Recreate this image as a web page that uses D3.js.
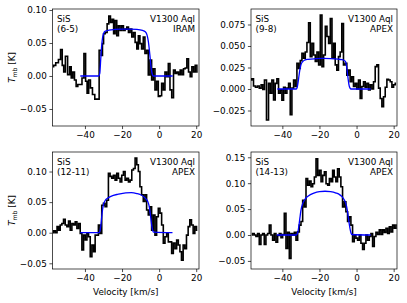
<!DOCTYPE html>
<html>
<head>
<meta charset="utf-8">
<script src="https://cdn.jsdelivr.net/npm/d3@7"></script>
<style>
body { margin: 0; background: #fff; }
svg { display: block; font-family: "DejaVu Sans", sans-serif; }
</style>
</head>
<body>
<svg id="fig" width="407" height="303"></svg>
<script>
// SiS (6-5), IRAM -- observed spectrum
var vel65 = [-57.3,-56.5,-55.0,-53.6,-52.7,-51.8,-51.1,-50.0,-48.7,-47.8,-47.0,-46.1,-45.2,-44.3,-43.4,-42.2,-41.0,-40.1,-39.2,-38.5,-37.5,-36.6,-35.3,-34.1,-33.0,-31.7,
  -30.8,-30.3,-29.6,-28.5,-27.6,-26.7,-25.8,-24.9,-24.2,-23.3,-22.4,-21.5,-20.6,-19.7,-18.8,-17.9,-17.0,-16.1,-15.2,-14.3,-13.4,-12.5,-11.6,-10.8,-9.9,-9.0,-8.1,-7.2,-6.3,-5.4,-4.5,-3.6,-2.7,-1.8,-0.9,0,0.9,1.8,2.7,3.6,4.5,5.4,6.3,7.3,8.2,9.1,10.0,10.9,11.8,12.7,13.6,14.5,15.4,16.3,17.2,18.1,19.0,19.9,20.8];
var tmb65 = [0.014,0.016,0.020,0.025,0.040,0.016,0.006,0.030,0.002,0.014,-0.003,0.006,-0.006,-0.016,-0.013,-0.013,-0.003,0.034,-0.008,-0.026,-0.006,-0.018,-0.028,-0.035,-0.035,0.039,
  0.031,0.049,0.064,0.066,0.079,0.091,0.081,0.086,0.064,0.084,0.061,0.076,0.069,0.076,0.069,0.071,0.074,0.066,0.071,0.059,0.066,0.051,0.041,0.061,0.049,0.041,0.059,0.034,0.039,0.0015,0.024,-0.006,0.011,-0.021,-0.008,-0.031,-0.030,-0.011,-0.021,0.006,-0.001,0.019,-0.021,-0.033,0.009,0.004,0.006,0.002,0.009,0.002,0.011,0.012,0.026,0.006,-0.001,0.014,0.006,0.016,0.006];
// model
var modVel65 = [-42.5,-32.6,-32.0,-31.5,-31.0,-30.5,-30.0,-29.0,-27.0,-24,-20,-16,-12,-9,-7.5,-6.5,-5.8,-5.0,-4.3,-3.6,-3.0,7.3];
var modTmb65 = [0,0,0.004,0.025,0.045,0.058,0.064,0.068,0.0695,0.0705,0.071,0.071,0.0705,0.069,0.067,0.062,0.052,0.032,0.012,0.002,0,0];

// SiS (9-8), APEX
var vel98 = [-56.9,-56.0,-55.1,-53.9,-53.0,-51.9,-51.0,-50.1,-49.2,-47.9,-47.0,-46.1,-45.2,-44.3,-43.4,-42.5,-41.6,-40.7,-39.8,-38.9,-38.0,-37.1,-36.2,-35.3,-34.4,-33.5,-32.6,-31.7,-30.8,-29.9,
  -29.0,-28.1,-27.2,-26.3,-25.4,-24.5,-23.6,-22.7,-21.8,-20.9,-20.0,-19.1,-18.2,-17.3,-16.4,-15.5,-14.6,-13.7,-12.8,-11.9,-11.1,-10.2,-9.3,-8.4,-7.5,-6.6,-5.7,-4.8,-3.9,-3.0,
  -2.1,-1.2,-0.3,0.6,1.5,2.4,3.3,4.2,5.1,6.0,6.9,7.8,8.7,9.6,10.5,11.4,12.3,13.2,14.1,15.0,15.9,16.8,17.7,18.6,19.5,20.4,21.3];
var tmb98 = [0.0105,0.012,0.0035,0.002,0.0035,0.001,0.005,-0.0004,0.0105,-0.036,0.0066,-0.005,0.0105,-0.0128,0.0066,0.012,-0.005,-0.001,-0.013,0.002,-0.005,0.001,0.0066,-0.030,0.001,0.0105,0.003,0.030,0.024,0.033,
  0.0415,0.0357,0.043,0.054,0.077,0.0376,0.053,0.0395,0.032,0.043,0.028,0.086,0.026,0.0395,0.073,0.061,0.053,0.082,0.0357,0.053,0.028,0.022,0.0376,0.043,0.076,0.028,0.030,0.016,0.022,0.0085,
  0.0143,0.003,0.0066,0,0.0105,-0.011,0.003,0.0085,0.002,0.0066,-0.001,0.005,0,0.0085,0.026,0.028,0.001,-0.011,-0.0205,-0.009,0.002,0.0112,0.0105,0.0085,0.002,0.005,0.0066];
var modVel98 = [-42.7,-32.5,-32,-31.5,-31,-30.5,-30,-29,-28,-26,-22,-18,-14,-10,-8,-7,-6,-5.5,-5,-4.5,-4,-3.5,-3,7.6];
var modTmb98 = [0,0,0.002,0.008,0.016,0.023,0.028,0.032,0.0335,0.0345,0.0352,0.0355,0.0353,0.0347,0.0342,0.0336,0.032,0.028,0.02,0.011,0.004,0.001,0,0];

// SiS (12-11), APEX
var vel1211 = [-57.3,-56.4,-55.5,-54.6,-53.8,-52.9,-52.0,-51.1,-50.2,-49.3,-48.4,-47.5,-46.6,-45.7,-44.8,-43.9,-43.0,-42.1,-41.2,-40.3,
  -39.4,-38.5,-37.6,-36.7,-35.8,-34.9,-34.1,-33.2,-32.3,-31.4,-30.5,-29.6,-28.7,-27.8,-26.9,-26.0,-25.1,-24.2,-23.3,-22.4,
  -21.5,-20.6,-19.7,-18.8,-17.9,-17.0,-16.1,-15.2,-14.3,-13.4,-12.5,-11.6,-10.8,-9.9,-9.0,-8.1,-7.2,-6.3,-5.4,-4.5,
  -3.6,-2.7,-1.8,-0.9,0,0.9,1.8,2.7,3.6,4.5,5.4,6.3,7.2,8.1,9.0,9.9,10.8,11.6,12.5,13.4,14.3,15.2,16.1,17.0,17.9,18.8,19.7,20.6];
var tmb1211 = [0,0.003,0,0.01,0.004,0.0125,0.015,0.022,0.0125,0.01,0.019,0.004,0.015,0.0125,0.018,0.007,0.015,-0.001,-0.028,-0.004,
  -0.012,-0.001,-0.0065,-0.039,-0.020,-0.031,-0.004,-0.004,0.0125,-0.001,0.045,0.048,0.0425,0.053,0.097,0.092,0.089,0.094,0.086,0.097,
  0.089,0.083,0.094,0.1,0.086,0.089,0.083,0.086,0.1025,0.105,0.122,0.111,0.1,0.075,0.062,0.051,0.062,0.037,0.029,0.0425,
  0.004,0.029,-0.004,0.026,0.040,0.032,0.0125,-0.017,-0.0065,-0.001,-0.015,-0.015,-0.034,-0.017,-0.026,-0.012,-0.020,-0.031,-0.045,-0.020,
  -0.026,-0.004,0.01,0.021,0.0125,-0.001,0.01,0.004];
var modVel1211 = [-42.5,-32.5,-32,-31.5,-31,-30.5,-30,-29,-28,-26,-22,-18,-15,-12,-10,-8,-7,-6,-5.5,-5,-4.5,-4,-3.5,-3,7.2];
var modTmb1211 = [0,0,0.002,0.01,0.025,0.038,0.046,0.053,0.056,0.0595,0.063,0.0652,0.0655,0.064,0.062,0.058,0.055,0.050,0.045,0.036,0.024,0.012,0.004,0.001,0];

// SiS (14-13), APEX
var vel1413 = [-56.5,-55.6,-54.7,-53.8,-52.9,-52.0,-51.1,-50.2,-49.3,-48.4,-47.5,-46.6,-45.7,-44.8,-43.9,-43.0,-42.1,-41.2,-40.3,-39.4,
  -38.5,-37.6,-36.7,-35.8,-34.9,-34.0,-33.1,-32.2,-31.3,-30.4,-29.5,-28.6,-27.7,-26.8,-25.9,-25.0,-24.1,-23.2,-22.3,-21.4,
  -20.5,-19.6,-18.7,-17.8,-16.9,-16.0,-15.1,-14.2,-13.3,-12.5,-11.6,-10.7,-9.8,-8.9,-8.0,-7.1,-6.2,-5.3,-4.4,-3.5,
  -2.6,-1.7,-0.8,0.1,1.0,1.9,2.8,3.7,4.6,5.5,6.4,7.3,8.2,9.1,10.0,10.9,11.8,12.7,13.6,14.5,15.4,16.3,17.2,18.1,19.0,19.9,20.8,21.7];
var tmb1413 = [0,0.003,0,-0.003,0.003,-0.018,0,0.003,-0.018,0,0.003,0.019,0,-0.01,0.003,-0.014,-0.001,0.003,-0.005,0.001,
  0.042,-0.026,0.005,-0.045,0.003,0,0.005,-0.01,0.006,0.019,0.026,0.067,0.054,0.109,0.096,0.104,0.093,0.099,0.112,0.147,
  0.115,0.125,0.103,0.115,0.122,0.099,0.096,0.109,0.103,0.125,0.112,0.103,0.128,0.112,0.093,0.054,0.064,0.045,0.026,0.035,
  0.019,-0.013,0,-0.006,-0.010,0,-0.016,-0.028,-0.016,0,-0.010,-0.003,0.003,-0.022,-0.003,0.005,0.001,0.01,0.001,0.01,
  0.005,0.013,0.003,0.016,0.006,0.019,0.013,0.019];
var modVel1413 = [-43,-32.5,-32,-31.5,-31,-30.5,-30,-29,-28,-26,-23,-20,-17,-14,-11,-9,-8,-7,-6,-5.5,-5,-4.5,-4,-3.5,-3,-2.5,7.6];
var modTmb1413 = [0,0,0.002,0.008,0.02,0.034,0.047,0.061,0.068,0.0755,0.081,0.0838,0.0845,0.0838,0.081,0.0775,0.0745,0.070,0.063,0.057,0.048,0.036,0.023,0.012,0.004,0.001,0];

var xTicks = [-40, -20, 0, 20];
var source = "V1300 Aql";

var panels = [
  {vel: vel65, tmb: tmb65, mv: modVel65, mt: modTmb65, trans: "(6-5)", tel: "IRAM",
   box: [52.5, 9, 199, 126], xdom: [-57.5, 21.5], ydom: [-0.0758, 0.1015],
   yticks: [-0.05, 0, 0.05, 0.1], yfmt: ".2f", ylab: true, xlab: false},
  {vel: vel98, tmb: tmb98, mv: modVel98, mt: modTmb98, trans: "(9-8)", tel: "APEX",
   box: [251, 9, 397, 126], xdom: [-56.9, 21.8], ydom: [-0.043, 0.093],
   yticks: [-0.025, 0, 0.025, 0.05, 0.075], yfmt: ".3f", ylab: false, xlab: false},
  {vel: vel1211, tmb: tmb1211, mv: modVel1211, mt: modTmb1211, trans: "(12-11)", tel: "APEX",
   box: [52.5, 152, 199, 269], xdom: [-57.5, 21.5], ydom: [-0.0593, 0.1319],
   yticks: [-0.05, 0, 0.05, 0.1], yfmt: ".2f", ylab: true, xlab: true},
  {vel: vel1413, tmb: tmb1413, mv: modVel1413, mt: modTmb1413, trans: "(14-13)", tel: "APEX",
   box: [251, 152, 397, 269], xdom: [-56.9, 21.8], ydom: [-0.0656, 0.1602],
   yticks: [-0.05, 0, 0.05, 0.1, 0.15], yfmt: ".2f", ylab: false, xlab: true}
];

var svg = d3.select("#fig");
var fs = 8.8;

panels.forEach(function(p, k) {
  var x0 = p.box[0], y0 = p.box[1], x1 = p.box[2], y1 = p.box[3];
  var x = d3.scaleLinear().domain(p.xdom).range([x0, x1]);
  var y = d3.scaleLinear().domain(p.ydom).range([y1, y0]);

  svg.append("clipPath").attr("id", "clip" + k)
    .append("rect").attr("x", x0).attr("y", y0).attr("width", x1 - x0).attr("height", y1 - y0);

  var g = svg.append("g");
  var plot = g.append("g").attr("clip-path", "url(#clip" + k + ")");

  var obs = d3.zip(p.vel, p.tmb);
  var mod = d3.zip(p.mv, p.mt);

  plot.append("path")
    .datum(obs)
    .attr("d", d3.line().x(function(d){return x(d[0]);}).y(function(d){return y(d[1]);}).curve(d3.curveStep))
    .attr("fill", "none").attr("stroke", "#000").attr("stroke-width", 1.6)
    .attr("stroke-linejoin", "miter");

  plot.append("path")
    .datum(mod)
    .attr("d", d3.line().x(function(d){return x(d[0]);}).y(function(d){return y(d[1]);}).curve(d3.curveMonotoneX))
    .attr("fill", "none").attr("stroke", "#0000ff").attr("stroke-width", 1.3);

  var xa = g.append("g").attr("transform", "translate(0," + y1 + ")")
    .call(d3.axisBottom(x).tickValues(xTicks).tickSize(3.1).tickPadding(2.6));
  var ya = g.append("g").attr("transform", "translate(" + x0 + ",0)")
    .call(d3.axisLeft(y).tickValues(p.yticks).tickFormat(d3.format(p.yfmt)).tickSize(3.1).tickPadding(2.6));
  [xa, ya].forEach(function(a) {
    a.select(".domain").remove();
    a.selectAll(".tick line").attr("stroke", "#000").attr("stroke-width", 0.7);
    a.selectAll("text").attr("fill", "#000").style("font-size", fs + "px").style("font-family", "DejaVu Sans");
  });

  g.append("rect").attr("x", x0).attr("y", y0).attr("width", x1 - x0).attr("height", y1 - y0)
    .attr("fill", "none").attr("stroke", "#000").attr("stroke-width", 0.7);

  var lab = g.append("g").style("font-size", fs + "px").attr("fill", "#000");
  lab.append("text").attr("x", x0 + 4.5).attr("y", y0 + 12.5).text("SiS");
  lab.append("text").attr("x", x0 + 4.5).attr("y", y0 + 23).text(p.trans);
  lab.append("text").attr("x", x1 - 4).attr("y", y0 + 12.5).attr("text-anchor", "end").text(source);
  lab.append("text").attr("x", x1 - 4).attr("y", y0 + 23).attr("text-anchor", "end").text(p.tel);

  if (p.ylab) {
    var t = g.append("text")
      .attr("transform", "translate(15," + ((y0 + y1) / 2) + ") rotate(-90)")
      .attr("text-anchor", "middle").style("font-size", fs + "px");
    t.append("tspan").style("font-style", "italic").text("T");
    t.append("tspan").attr("dy", 1.8).style("font-size", (fs * 0.7) + "px").text("mb");
    t.append("tspan").attr("dy", -1.8).text(" [K]");
  }
  if (p.xlab) {
    g.append("text").attr("x", (x0 + x1) / 2).attr("y", 294.5)
      .attr("text-anchor", "middle").style("font-size", fs + "px").text("Velocity [km/s]");
  }
});
</script>
</body>
</html>
